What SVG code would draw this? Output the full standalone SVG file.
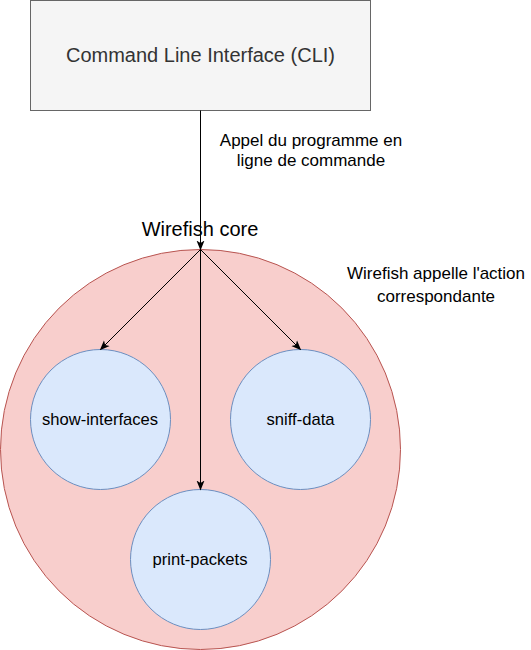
<svg xmlns="http://www.w3.org/2000/svg" width="531" height="650" viewBox="0 0 531 650">
<style>
text{font-family:"Liberation Sans",Arial,sans-serif;text-anchor:middle;}
.lbl{font-size:17px;fill:#000;}
.node{font-size:16.6px;fill:#000;}
.small{fill:#dae8fc;stroke:#6c8ebf;stroke-width:1;}
.edge{stroke:#000;stroke-width:1;fill:none;marker-end:url(#arr);}
</style>
<defs>
<marker id="arr" viewBox="0 0 10 10" refX="9" refY="5" markerWidth="10" markerHeight="10" markerUnits="userSpaceOnUse" orient="auto">
<path d="M0,1 L10,5 L0,9 L2.5,5 Z" fill="#000"/>
</marker>
</defs>
<g id="cli">
<rect x="30.5" y="0.5" width="340" height="110" fill="#f5f5f5" stroke="#666666"/>
<text x="200.5" y="62" style="font-size:20px;fill:#333333">Command Line Interface (CLI)</text>
</g>
<g id="core">
<circle cx="200.5" cy="449.5" r="200" fill="#f8cecc" stroke="#b85450"/>
<text x="200" y="236" style="font-size:20px;fill:#000">Wirefish core</text>
</g>
<g id="show-interfaces">
<circle class="small" cx="100.5" cy="419.5" r="70"/>
<text class="node" x="100" y="424.5">show-interfaces</text>
</g>
<g id="sniff-data">
<circle class="small" cx="300.5" cy="419.5" r="70"/>
<text class="node" x="300.5" y="424.5">sniff-data</text>
</g>
<g id="print-packets">
<circle class="small" cx="200.5" cy="559.5" r="70"/>
<text class="node" x="200" y="564.5">print-packets</text>
</g>
<g id="labels">
<text class="lbl" x="311" y="146">Appel du programme en</text>
<text class="lbl" x="311" y="166">ligne de commande</text>
<text class="lbl" x="436" y="279">Wirefish appelle l'action</text>
<text class="lbl" x="436" y="302">correspondante</text>
</g>
<g id="connectors">
<line class="edge" x1="200.5" y1="110.5" x2="200.5" y2="249.5"/>
<line class="edge" x1="200.5" y1="249.5" x2="100.5" y2="349.5"/>
<line class="edge" x1="200.5" y1="249.5" x2="300.5" y2="349.5"/>
<line class="edge" x1="200.5" y1="249.5" x2="200.5" y2="489.5"/>
</g>
</svg>
